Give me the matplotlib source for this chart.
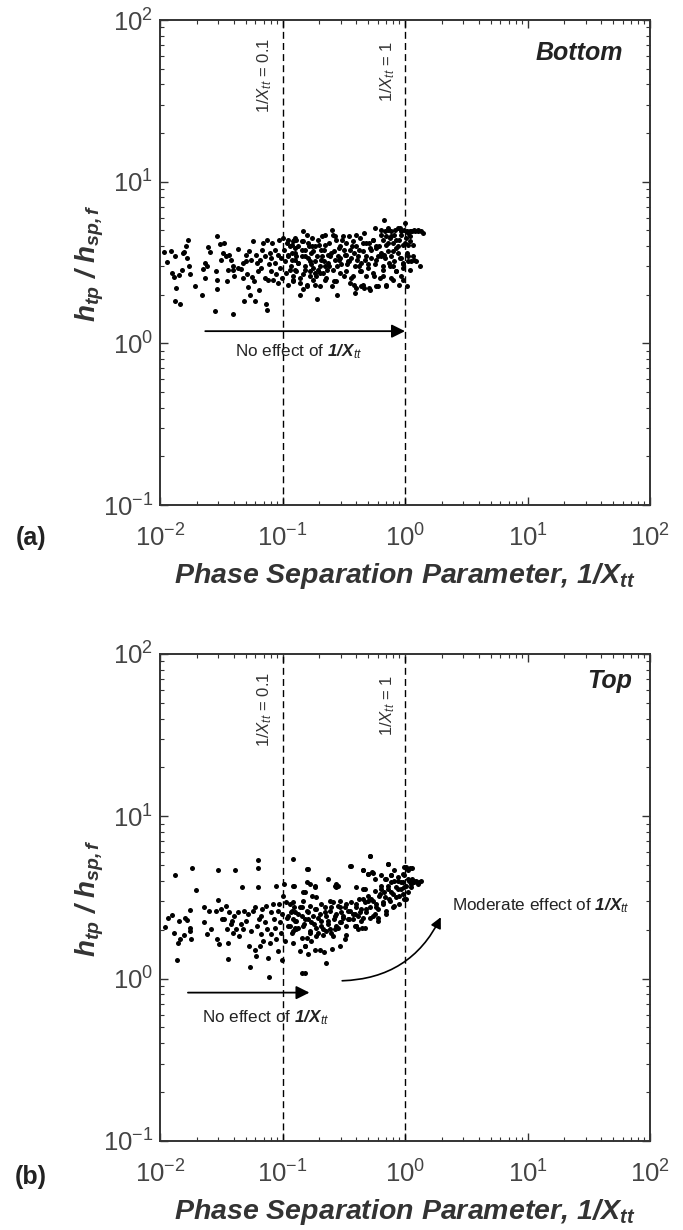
import matplotlib
matplotlib.use('Agg')
import matplotlib.pyplot as plt
from matplotlib.ticker import NullFormatter

plt.rcParams['font.family'] = ['Liberation Sans', 'DejaVu Sans']
plt.rcParams['mathtext.fontset'] = 'custom'
plt.rcParams['mathtext.rm'] = 'Liberation Sans'
plt.rcParams['mathtext.it'] = 'Liberation Sans:italic'
plt.rcParams['mathtext.bf'] = 'Liberation Sans:bold:italic'
plt.rcParams['mathtext.default'] = 'regular'

# data: (a) bottom, (b) top
bottom_x = [
    0.0108, 0.0123, 0.0115, 0.0133, 0.0125, 0.0129, 0.0135, 0.0133, 0.0146, 0.0142,
    0.0151, 0.0154, 0.0164, 0.0168, 0.0166, 0.0171, 0.0177, 0.0158, 0.0192, 0.0225,
    0.0222, 0.0232, 0.0231, 0.0243, 0.0248, 0.0256, 0.0279, 0.0290, 0.0286, 0.0294,
    0.0290, 0.0309, 0.0330, 0.0317, 0.0325, 0.0344, 0.0356, 0.0351, 0.0367, 0.0379,
    0.0391, 0.0391, 0.0404, 0.0391, 0.0431, 0.0436, 0.0458, 0.0473, 0.0473, 0.0482,
    0.0504, 0.0504, 0.0514, 0.0527, 0.0537, 0.0547, 0.0554, 0.0561, 0.0573, 0.0583,
    0.0591, 0.0610, 0.0618, 0.0630, 0.0637, 0.0650, 0.0670, 0.0679, 0.0692, 0.0714,
    0.0724, 0.0738, 0.0752, 0.0752, 0.0761, 0.0771, 0.0786, 0.0801, 0.0811, 0.0822,
    0.0838, 0.0865, 0.0875, 0.0891, 0.0910, 0.0921, 0.0933, 0.0951, 0.0969, 0.0981,
    0.101, 0.103, 0.105, 0.106, 0.108, 0.110, 0.111, 0.115, 0.117, 0.120,
    0.122, 0.125, 0.126,
    0.122, 0.126, 0.130, 0.135, 0.126, 0.139, 0.122, 0.144, 0.148, 0.148,
    0.153, 0.153, 0.158, 0.139, 0.148, 0.163, 0.168, 0.168, 0.173, 0.179,
    0.179, 0.185, 0.191, 0.191, 0.197, 0.203, 0.210, 0.217, 0.217, 0.223,
    0.223, 0.231, 0.238, 0.246, 0.254, 0.254, 0.262, 0.270, 0.279, 0.279,
    0.288, 0.297, 0.307, 0.317, 0.327, 0.338, 0.349, 0.360, 0.371, 0.384,
    0.391, 0.396, 0.408, 0.421, 0.435, 0.435, 0.450, 0.464, 0.464, 0.479,
    0.494, 0.510, 0.526, 0.543, 0.561, 0.572, 0.579, 0.598, 0.617, 0.637,
    0.658, 0.679, 0.679, 0.700, 0.723, 0.723, 0.746, 0.771, 0.771, 0.795,
    0.821, 0.847, 0.875, 0.891, 0.903, 0.932, 0.962, 0.962, 0.993, 0.993,
    1.03, 1.03, 1.03, 1.06, 1.09, 1.09, 1.13, 1.16, 1.20, 1.24,
    1.28, 1.32, 1.36, 1.41,
    0.130, 0.158, 0.173, 0.185, 0.203, 0.210, 0.238, 0.262, 0.288, 0.317,
    0.349, 0.384, 0.421, 0.510, 0.579, 0.637, 0.700, 0.795, 0.847, 0.903,
    1.06, 1.16,
    0.111, 0.119, 0.126, 0.134, 0.143, 0.152, 0.162, 0.172, 0.183, 0.195,
    0.208, 0.221, 0.236, 0.111, 0.119, 0.126, 0.134, 0.143, 0.152, 0.162,
    0.172, 0.183, 0.195, 0.208, 0.221, 0.236, 0.115, 0.130, 0.147, 0.167,
    0.189, 0.214, 0.122, 0.138, 0.157, 0.178, 0.201, 0.228,
    0.258, 0.275, 0.293, 0.312, 0.332, 0.353, 0.376, 0.400, 0.426, 0.453,
    0.482, 0.514, 0.547, 0.582, 0.251, 0.267, 0.284, 0.302, 0.322, 0.342,
    0.364, 0.388, 0.413, 0.439, 0.468, 0.498, 0.530, 0.564, 0.600, 0.258,
    0.293, 0.332, 0.376, 0.426, 0.482, 0.547, 0.619, 0.275, 0.353, 0.453,
    0.582, 0.400, 0.514, 0.701,
    0.639, 0.680, 0.724, 0.770, 0.820, 0.873, 0.929, 0.989, 1.05, 1.12,
    1.19, 1.27, 0.659, 0.701, 0.747, 0.795, 0.846, 0.900, 0.958, 1.02,
    1.09, 0.639, 0.680, 0.724, 0.770, 0.820, 0.873, 0.929, 0.958, 1.05,
    1.12, 1.19, 0.659, 0.747, 0.846, 0.958, 1.09, 0.659, 0.795, 0.929,
]
bottom_y = [
    3.66, 3.75, 3.18, 3.49, 2.73, 2.58, 2.21, 1.84, 1.74, 2.63,
    2.86, 3.60, 4.03, 4.39, 3.38, 3.00, 2.67, 3.66, 2.28, 2.90,
    2.00, 2.54, 3.12, 3.03, 3.95, 3.70, 1.58, 4.60, 2.82, 2.48,
    2.17, 4.14, 4.18, 3.27, 3.63, 3.49, 2.86, 2.43, 3.54, 3.30,
    2.86, 1.53, 2.61, 3.00, 3.84, 2.93, 2.89, 3.15, 2.54, 1.82,
    3.54, 3.22, 2.70, 2.23, 3.72, 1.98, 3.30, 2.58, 4.28, 2.43,
    1.82, 3.54, 3.15, 2.79, 2.15, 3.30, 2.93, 3.80, 4.18, 3.46,
    2.54, 1.74, 1.61, 4.39, 2.48, 3.08, 3.63, 2.79, 3.38, 4.18,
    2.48, 3.15, 3.80, 2.67, 3.54, 2.37, 4.39, 2.93, 3.38, 2.54,
    4.49, 3.80, 3.22, 2.73, 4.18, 3.46, 2.31, 3.99, 3.00, 3.63,
    2.61, 4.39, 3.30,
    4.28, 3.90, 3.46, 3.15, 2.86, 2.54, 2.43, 3.80, 4.94, 4.28,
    3.46, 2.86, 2.26, 1.98, 2.17, 3.99, 3.22, 2.61, 4.49, 3.72,
    2.93, 2.31, 1.89, 3.46, 4.08, 2.73, 4.60, 3.22, 3.80, 4.71,
    2.48, 2.86, 4.18, 3.46, 5.06, 2.26, 2.43, 4.60, 1.98, 3.00,
    3.90, 3.38, 4.39, 2.61, 3.54, 3.08, 4.60, 2.54, 3.99, 2.31,
    2.06, 4.71, 3.30, 3.80, 2.79, 2.26, 4.18, 4.82, 2.21, 3.46,
    3.08, 2.21, 3.80, 4.39, 2.61, 5.18, 3.30, 2.26, 3.99, 4.71,
    2.86, 5.82, 3.54, 2.26, 5.06, 4.18, 3.15, 4.60, 2.54, 3.72,
    5.06, 2.79, 3.99, 2.31, 3.38, 4.71, 3.08, 2.48, 5.56, 4.18,
    4.94, 3.63, 2.26, 3.22, 4.60, 4.94, 4.94, 3.46, 4.94, 3.22,
    5.06, 3.00, 4.94, 4.82,
    4.39, 4.71, 3.99, 2.73, 3.00, 3.46, 3.00, 3.72, 3.30, 3.80,
    3.22, 3.63, 3.00, 4.18, 3.90, 3.46, 4.60, 3.00, 4.39, 5.18,
    4.08, 4.08,
    4.39, 4.08, 4.49, 3.99, 4.28, 3.80, 4.18, 3.63, 3.99, 4.39,
    3.80, 4.08, 3.54, 3.54, 3.30, 3.63, 3.15, 3.46, 3.00, 3.38,
    3.08, 3.22, 2.86, 3.30, 3.00, 3.15, 2.86, 2.80, 2.67, 2.80,
    2.61, 2.73, 2.48, 2.37, 2.31, 2.48, 2.26, 2.54,
    4.71, 4.39, 3.99, 4.60, 4.18, 3.80, 4.28, 3.99, 4.49, 3.72,
    4.18, 3.90, 4.39, 3.99, 3.63, 3.30, 3.46, 3.08, 3.54, 3.22,
    3.38, 3.00, 3.46, 3.15, 3.30, 2.93, 3.38, 3.08, 3.46, 2.86,
    2.73, 2.80, 2.61, 2.80, 2.61, 2.73, 2.54, 2.43, 2.37, 2.31,
    2.26, 2.21, 2.15, 2.31,
    5.06, 4.94, 5.18, 4.94, 4.71, 5.18, 4.94, 5.06, 4.82, 4.94,
    5.01, 4.94, 4.39, 4.08, 4.49, 4.18, 3.90, 4.39, 4.08, 4.49,
    4.28, 3.63, 3.38, 3.72, 3.46, 3.22, 3.63, 3.38, 3.15, 3.46,
    3.22, 3.30, 3.00, 3.00, 2.80, 2.93, 2.86, 2.61, 2.48, 2.61,
]

top_x = [
    0.0110, 0.0117, 0.0126, 0.0130, 0.0133, 0.0139, 0.0137, 0.0142, 0.0146, 0.0156,
    0.0159, 0.0166, 0.0175, 0.0175, 0.0177, 0.0179, 0.0183, 0.0195, 0.0228, 0.0228,
    0.0240, 0.0251, 0.0259, 0.0285, 0.0294, 0.0298, 0.0298, 0.0303, 0.0313, 0.0323,
    0.0334, 0.0344, 0.0351, 0.0356, 0.0362, 0.0367, 0.0379, 0.0384, 0.0391, 0.0399,
    0.0409, 0.0417, 0.0431, 0.0444, 0.0458, 0.0467, 0.0473, 0.0489, 0.0504, 0.0520,
    0.0537, 0.0547, 0.0554, 0.0573, 0.0591, 0.0598, 0.0610, 0.0621, 0.0630, 0.0630,
    0.0630, 0.0637, 0.0650, 0.0662, 0.0670, 0.0679, 0.0692, 0.0714, 0.0738, 0.0752,
    0.0761, 0.0771, 0.0786, 0.0801, 0.0811, 0.0838, 0.0853, 0.0865, 0.0891, 0.0891,
    0.0910, 0.0921, 0.0933, 0.0951, 0.0969, 0.0981, 0.0993, 0.101, 0.103, 0.105,
    0.106, 0.108, 0.111, 0.115, 0.117, 0.120, 0.122, 0.125, 0.126,
    0.122, 0.513, 0.359, 0.723, 0.453, 0.497, 0.546, 0.160, 0.157, 0.275,
    0.283, 0.453, 0.183, 0.152, 1.02, 1.05, 1.13, 0.124, 0.769,
    0.122, 0.126, 0.130, 0.134, 0.122, 0.138, 0.143, 0.143, 0.147, 0.150,
    0.154, 0.157, 0.162, 0.162, 0.167, 0.167, 0.172, 0.174, 0.178, 0.181,
    0.183, 0.189, 0.195, 0.201, 0.205, 0.207, 0.214, 0.218, 0.221, 0.228,
    0.228, 0.235, 0.243, 0.250, 0.254, 0.258, 0.263, 0.266, 0.275, 0.283,
    0.283, 0.292, 0.302, 0.311, 0.321, 0.321, 0.331, 0.342, 0.352, 0.364,
    0.375, 0.387, 0.399, 0.412, 0.425, 0.439, 0.445, 0.453, 0.467, 0.482,
    0.497, 0.513, 0.529, 0.546, 0.564, 0.581, 0.600, 0.618, 0.638, 0.658,
    0.679, 0.700, 0.723, 0.745, 0.769, 0.794, 0.818, 0.845, 0.871, 0.900,
    0.927, 0.957, 0.975, 0.987, 1.02, 1.05, 1.08, 1.12, 1.15, 1.19,
    1.23, 1.27, 1.31, 1.35,
    0.143, 0.152, 0.412, 0.235, 0.167, 0.399, 0.600, 0.638, 0.700,
    0.514, 0.157, 0.353, 0.724, 0.453, 0.540, 0.820, 0.498, 0.564, 0.989,
    1.09, 0.183, 0.267, 0.275, 0.400, 0.468, 0.122, 0.147, 0.189, 0.243,
    0.293,
    0.122, 0.138, 0.152, 0.157, 0.189, 0.228, 0.258, 0.332, 0.400, 0.468,
    0.293, 0.201,
    0.111, 0.119, 0.126, 0.134, 0.143, 0.152, 0.162, 0.172, 0.183, 0.195,
    0.208, 0.221, 0.236, 0.251, 0.267, 0.115, 0.130, 0.147, 0.167, 0.189,
    0.214, 0.243, 0.275,
    0.293, 0.312, 0.332, 0.353, 0.376, 0.400, 0.426, 0.453, 0.482, 0.514,
    0.547, 0.582, 0.619, 0.302, 0.342, 0.388, 0.439, 0.498, 0.564, 0.600,
    0.639, 0.680, 0.724, 0.770, 0.820, 0.873, 0.929, 0.989, 1.05, 1.12,
    1.19, 0.659, 0.701, 0.747, 0.795, 0.846, 0.900, 0.958, 1.02, 0.680,
    0.770, 0.873, 0.958,
]
top_y = [
    2.09, 2.38, 2.46, 1.92, 4.32, 1.65, 1.31, 2.27, 1.75, 1.85,
    2.35, 2.30, 2.65, 2.06, 1.97, 1.75, 4.80, 3.53, 2.75, 2.24,
    1.88, 2.62, 2.01, 2.62, 1.75, 3.06, 4.64, 1.63, 2.68, 2.32,
    2.32, 2.79, 2.03, 1.66, 1.32, 2.56, 2.16, 2.27, 1.92, 2.44,
    4.64, 2.01, 2.56, 1.83, 2.16, 3.69, 2.01, 2.62, 2.27, 2.50,
    1.59, 1.18, 1.97, 2.62, 1.51, 2.75, 1.38, 2.11, 5.36, 4.80,
    3.69, 2.32, 1.59, 1.88, 2.44, 2.68, 1.71, 2.22, 2.79, 2.01,
    1.34, 1.03, 1.66, 2.56, 1.88, 2.88, 2.32, 2.06, 3.71, 1.75,
    1.48, 2.62, 2.88, 2.22, 1.92, 1.31, 2.50, 3.24, 3.84, 1.71,
    2.95, 2.38, 2.11, 2.88, 2.56, 1.92, 2.32, 2.75, 2.06,
    5.48, 5.69, 4.94, 5.05, 4.64, 4.42, 4.49, 4.75, 3.93, 3.84,
    3.74, 3.57, 3.71, 3.40, 4.86, 4.64, 4.80, 3.74, 4.32,
    2.95, 2.56, 2.27, 2.06, 1.97, 2.75, 2.44, 1.79, 3.02, 2.16,
    1.59, 2.62, 2.32, 1.41, 1.97, 2.81, 1.71, 3.24, 2.44, 2.16,
    1.51, 2.68, 1.92, 2.50, 2.88, 2.27, 2.01, 1.46, 2.75, 1.25,
    2.44, 2.16, 2.62, 1.92, 1.53, 2.95, 2.32, 2.01, 2.50, 2.81,
    2.06, 2.22, 2.56, 2.38, 1.75, 2.75, 2.11, 2.62, 2.32, 2.95,
    2.50, 2.11, 2.75, 2.44, 3.09, 2.68, 2.06, 2.38, 2.95, 2.56,
    3.24, 2.75, 3.09, 2.44, 3.48, 2.88, 2.68, 3.24, 3.74, 2.95,
    3.40, 2.50, 3.57, 3.09, 3.93, 3.32, 2.81, 3.66, 4.02, 3.24,
    3.57, 3.93, 3.09, 4.32, 3.74, 3.40, 4.02, 3.66, 4.12, 3.93,
    4.02, 3.84, 3.93, 4.02,
    1.08, 1.08, 2.01, 4.12, 3.84, 2.11, 2.38, 4.32, 4.12,
    5.66, 4.75, 4.91, 5.05, 4.69, 4.53, 4.64, 4.42, 4.12, 4.87,
    4.82, 3.66, 3.74, 3.66, 3.66, 3.57, 3.74, 3.40, 3.17, 3.02,
    3.02,
    1.66, 1.48, 1.59, 1.79, 1.83, 1.97, 1.83, 1.87, 2.11, 2.06,
    1.59, 1.51,
    2.44, 2.62, 2.27, 2.50, 2.75, 2.32, 2.56, 2.22, 2.68, 2.38,
    2.11, 2.56, 2.27, 2.75, 2.44, 2.11, 2.01, 2.11, 1.92, 2.06,
    1.87, 2.01, 2.11,
    2.75, 2.44, 2.88, 2.62, 2.32, 2.88, 2.56, 3.09, 2.68, 2.38,
    3.02, 2.75, 3.32, 2.22, 2.32, 2.50, 2.27, 3.02, 2.50, 2.27,
    3.57, 3.17, 3.74, 3.40, 4.02, 3.57, 3.93, 3.66, 4.12, 3.84,
    4.02, 2.88, 2.62, 3.02, 2.75, 3.17, 2.88, 3.32, 3.09, 4.12,
    4.32, 4.22, 4.42,
]

GREY = '#333333'
DARK = '#222222'

fig = plt.figure(figsize=(6.83, 12.30), dpi=100)
ax_a = fig.add_axes([0.2343, 0.5894, 0.7174, 0.3943])
ax_b = fig.add_axes([0.2343, 0.0724, 0.7174, 0.3959])


def style_axes(ax):
    ax.set_xscale('log')
    ax.set_yscale('log')
    ax.set_xlim(1e-2, 1e2)
    ax.set_ylim(1e-1, 1e2)
    ax.tick_params(which='both', direction='in', top=True, right=True, color=GREY)
    ax.tick_params(which='major', length=6, width=1, labelsize=18.5, labelcolor='#444444')
    ax.tick_params(which='minor', length=3, width=0.8)
    ax.tick_params(axis='x', pad=14)
    ax.tick_params(axis='y', pad=5)
    ax.xaxis.set_minor_formatter(NullFormatter())
    ax.yaxis.set_minor_formatter(NullFormatter())
    for sp in ax.spines.values():
        sp.set_linewidth(1.4)
        sp.set_color(GREY)
    for xv in [0.1, 1.0]:
        ax.axvline(xv, color='black', lw=1.0, ls=(0, (5, 3)))
    ax.set_xlabel(r'Phase Separation Parameter, 1/X$_{\mathbf{tt}}$', fontsize=20.5,
                  fontweight='bold', style='italic', color=GREY, labelpad=7)
    ax.set_ylabel(r'$\mathbf{h_{tp}}$ / $\mathbf{h_{sp,f}}$', fontsize=20,
                  fontweight='bold', style='italic', color=GREY)
    ax.yaxis.set_label_coords(-0.11, 0.5)
    ax.text(0.086, 78, r'$\mathit{1/X}_{\mathit{tt}}$ = 0.1', rotation=90,
            ha='right', va='top', fontsize=12, color=GREY)
    ax.text(0.86, 74, r'$\mathit{1/X}_{\mathit{tt}}$ = 1', rotation=90,
            ha='right', va='top', fontsize=12, color=GREY)


arrow = dict(arrowstyle='-|>', color='black', lw=1.3, mutation_scale=20, shrinkA=0, shrinkB=0)

# (a) bottom
style_axes(ax_a)
ax_a.plot(bottom_x, bottom_y, 'o', ms=3.6, color='black', mec='none')
ax_a.text(60, 62.5, 'Bottom', ha='right', va='center', fontsize=18,
          fontweight='bold', style='italic', color=DARK)
ax_a.annotate('', xy=(1.0, 1.19), xytext=(0.0234, 1.19), arrowprops=arrow)
ax_a.text(0.135, 0.89, r'No effect of $\mathbf{1/X}_{\mathit{tt}}$', ha='center',
          va='center', fontsize=12.3, color=DARK)

# (b) top
style_axes(ax_b)
ax_b.plot(top_x, top_y, 'o', ms=3.6, color='black', mec='none')
ax_b.text(71, 68, 'Top', ha='right', va='center', fontsize=18,
          fontweight='bold', style='italic', color=DARK)
ax_b.annotate('', xy=(0.166, 0.82), xytext=(0.0169, 0.82), arrowprops=arrow)
ax_b.text(0.0727, 0.575, r'No effect of $\mathbf{1/X}_{\mathit{tt}}$', ha='center',
          va='center', fontsize=12.3, color=DARK)
curved = dict(arrow, lw=1.2, mutation_scale=16, connectionstyle='arc3,rad=0.3')
ax_b.annotate('', xy=(1.96, 2.39), xytext=(0.307, 0.97), arrowprops=curved)
ax_b.text(2.41, 2.80, r'Moderate effect of $\mathbf{1/X}_{\mathit{tt}}$', ha='left',
          va='center', fontsize=12.3, color=DARK)

fig.text(0.045, 0.563, '(a)', fontsize=18, fontweight='bold', ha='center', va='center', color=DARK)
fig.text(0.045, 0.043, '(b)', fontsize=18, fontweight='bold', ha='center', va='center', color=DARK)

fig.savefig('out.png', dpi=100)
